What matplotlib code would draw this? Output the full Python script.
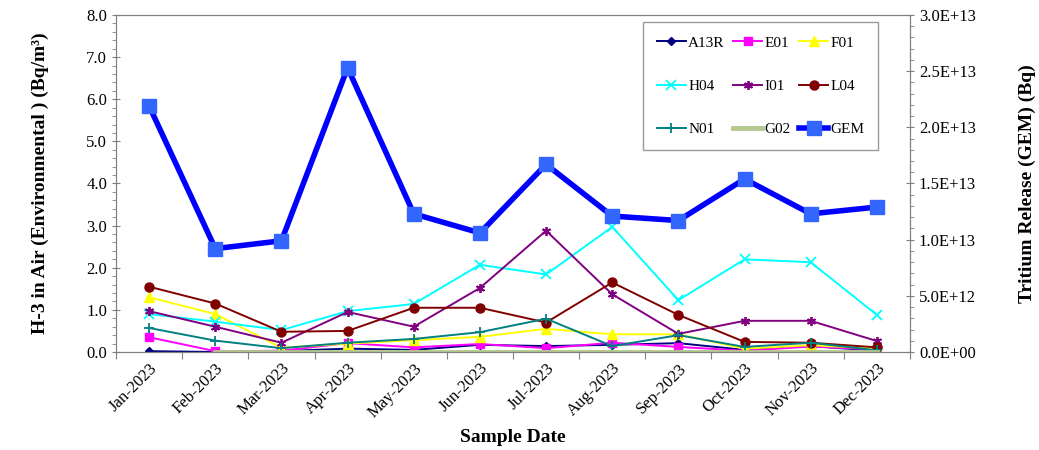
import matplotlib.pyplot as plt
import numpy as np
from matplotlib.ticker import MultipleLocator, FuncFormatter, FixedLocator

plt.rcParams["font.family"] = ["Liberation Serif", "DejaVu Serif"]

months = ["Jan-2023", "Feb-2023", "Mar-2023", "Apr-2023", "May-2023", "Jun-2023",
          "Jul-2023", "Aug-2023", "Sep-2023", "Oct-2023", "Nov-2023", "Dec-2023"]

a13r = [0.02, 0.0, 0.02, 0.08, 0.05, 0.17, 0.14, 0.17, 0.21, 0.05, 0.14, 0.03]
e01 = [0.35, 0.02, 0.03, 0.21, 0.11, 0.19, 0.09, 0.22, 0.12, 0.03, 0.13, 0.06]
f01 = [1.3, 0.9, 0.1, 0.2, 0.28, 0.36, 0.55, 0.42, 0.42, 0.08, 0.16, 0.08]
h04 = [0.9, 0.72, 0.52, 0.97, 1.14, 2.07, 1.84, 2.97, 1.23, 2.2, 2.13, 0.88]
i01 = [0.97, 0.6, 0.22, 0.95, 0.6, 1.52, 2.88, 1.37, 0.43, 0.74, 0.74, 0.26]
l04 = [1.55, 1.15, 0.48, 0.5, 1.05, 1.05, 0.7, 1.65, 0.88, 0.24, 0.22, 0.11]
n01 = [0.57, 0.27, 0.09, 0.22, 0.31, 0.47, 0.79, 0.14, 0.4, 0.12, 0.22, 0.04]
g02 = [np.nan, 0, 0, 0, 0, 0, 0, 0, 0, 0, 0, 0]
gem = [2.19e13, 0.92e13, 0.99e13, 2.53e13, 1.23e13, 1.06e13,
       1.67e13, 1.21e13, 1.17e13, 1.54e13, 1.23e13, 1.29e13]

x = np.arange(len(months))

fig = plt.figure(figsize=(10.39, 4.5), dpi=100)
ax = fig.add_axes([0.1117, 0.2178, 0.7641, 0.7489])
ax2 = ax.twinx()

lw = 1.4
h_a = ax.plot(x, a13r, color="#000080", marker="D", ms=4.5, lw=lw, label="A13R")[0]
h_e = ax.plot(x, e01, color="#FF00FF", marker="s", ms=5.5, lw=lw, label="E01")[0]
h_f = ax.plot(x, f01, color="#FFFF00", marker="^", ms=6.5, lw=lw, label="F01")[0]
h_h = ax.plot(x, h04, color="#00FFFF", marker="x", ms=6.5, mew=1.3, lw=lw, label="H04")[0]
h_i = ax.plot(x, i01, color="#800080", marker=(6, 2, 0), ms=6.5, mew=1.3, lw=lw, label="I01")[0]
h_l = ax.plot(x, l04, color="#800000", marker="o", ms=6.5, lw=lw, label="L04")[0]
h_n = ax.plot(x, n01, color="#008080", marker="+", ms=7, mew=1.3, lw=lw, label="N01")[0]
h_g = ax.plot(x, g02, color="#B3C98F", lw=3.5, label="G02")[0]
h_gem = ax2.plot(x, gem, color="#0000FF", lw=4, marker="s", ms=10,
                 mfc="#3366FF", mec="#3366FF", label="GEM")[0]

ax.set_xlim(-0.5, 11.5)
ax.set_ylim(0, 8)
ax2.set_ylim(0, 3e13)

ax.yaxis.set_major_locator(MultipleLocator(1.0))
ax.yaxis.set_minor_locator(MultipleLocator(0.2))
ax.yaxis.set_major_formatter(FuncFormatter(lambda v, p: f"{v:.1f}"))
ax2.yaxis.set_major_locator(MultipleLocator(5e12))
ax2.yaxis.set_minor_locator(MultipleLocator(1e12))
ax2.yaxis.set_major_formatter(FuncFormatter(lambda v, p: f"{v:.1E}"))

ax.xaxis.set_major_locator(FixedLocator(np.arange(-0.5, 12, 1.0)))
ax.set_xticklabels([], minor=False)
ax.set_xticks(x, months, minor=True, rotation=45, ha="right", rotation_mode="anchor")
ax.tick_params(axis="x", which="major", length=5, direction="out", color="#808080")
ax.tick_params(axis="x", which="minor", length=0, labelsize=12, pad=6)

ax.tick_params(axis="y", which="major", length=6, direction="inout", labelsize=12, color="#808080")
ax.tick_params(axis="y", which="minor", length=3, direction="out", color="#808080")
ax2.tick_params(axis="y", which="major", length=6, direction="inout", labelsize=12, color="#808080")
ax2.tick_params(axis="y", which="minor", length=3, direction="out", color="#808080")

for a in (ax, ax2):
    for s in a.spines.values():
        s.set_color("#808080")

ax.set_ylabel("H-3 in Air (Environmental ) (Bq/m³)", fontsize=14, fontweight="bold", labelpad=27)
ax2.set_ylabel("Tritium Release (GEM) (Bq)", fontsize=14, fontweight="bold", labelpad=31)
ax.set_xlabel("Sample Date", fontsize=14, fontweight="bold", labelpad=6)

handles = [h_a, h_h, h_n, h_e, h_i, h_g, h_f, h_l, h_gem]
leg = ax2.legend(handles=handles, labels=[h.get_label() for h in handles],
                 ncol=3, loc="upper left", bbox_to_anchor=(0.664, 0.979),
                 fontsize=11, frameon=True, fancybox=False, edgecolor="#808080",
                 labelspacing=1.95, handlelength=1.9, handletextpad=0.15,
                 columnspacing=0.55, borderpad=0.9, borderaxespad=0)
leg.get_frame().set_linewidth(1.0)

fig.savefig("out.png", dpi=100)
